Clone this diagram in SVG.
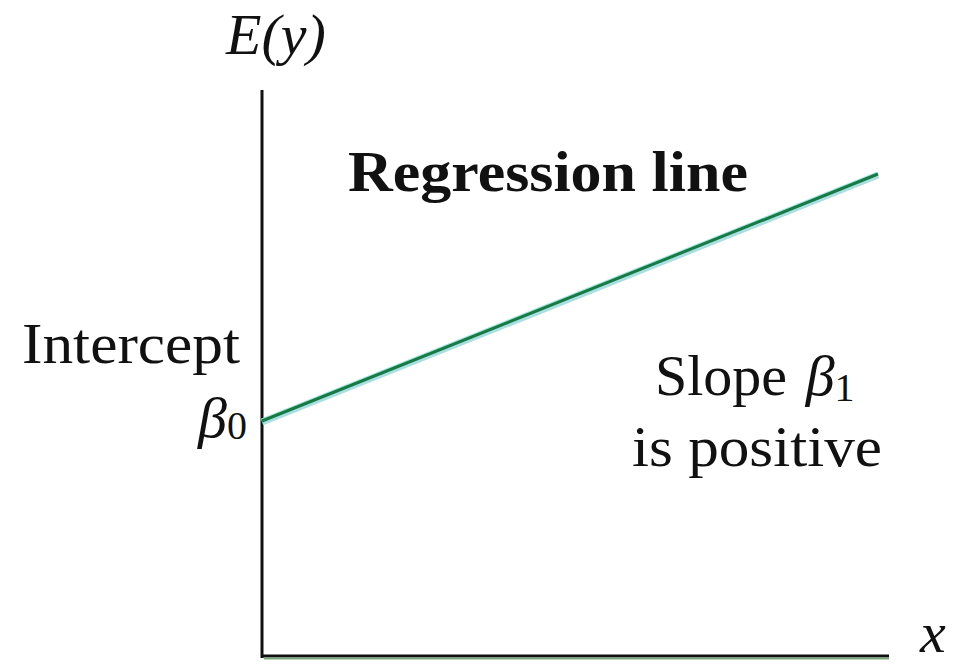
<svg xmlns="http://www.w3.org/2000/svg" width="956" height="668" viewBox="0 0 956 668">
<style>
.t{font-family:"Liberation Serif","Times New Roman",serif;fill:#111;font-size:58px}
.i{font-style:italic}
.b{font-weight:bold}
.ax{stroke:#111;stroke-width:3;fill:none}
</style>
<rect width="956" height="668" fill="#fff"/>
<g id="axes">
<line class="ax" x1="262" y1="90" x2="262" y2="658" stroke="#1d3d1d"/>
<line class="ax" x1="262" y1="656" x2="889" y2="656"/>
<line x1="264" y1="658.5" x2="889" y2="658.5" stroke="#7aa87a" stroke-width="2"/>
</g>
<g id="regression">
<line x1="262" y1="422" x2="878" y2="175" stroke="#a8e0e0" stroke-width="7"/>
<line x1="262" y1="421" x2="878" y2="174" stroke="#177a45" stroke-width="3"/>
</g>
<g id="labels">
<text class="t i" x="226" y="54" font-size="56">E(y)</text>
<text class="t b" x="348" y="191" textLength="400" lengthAdjust="spacingAndGlyphs">Regression line</text>
<text class="t" x="22" y="363" textLength="218" lengthAdjust="spacingAndGlyphs">Intercept</text>
<text class="t" x="198" y="437"><tspan class="i">β</tspan><tspan font-size="40" dy="2">0</tspan></text>
<text class="t" x="655" y="395">Slope <tspan class="i" dx="4">β</tspan><tspan font-size="40" dy="6">1</tspan></text>
<text class="t" x="632" y="466" textLength="250" lengthAdjust="spacingAndGlyphs">is positive</text>
<text class="t i" x="920" y="652" font-size="54">x</text>
</g>
</svg>
